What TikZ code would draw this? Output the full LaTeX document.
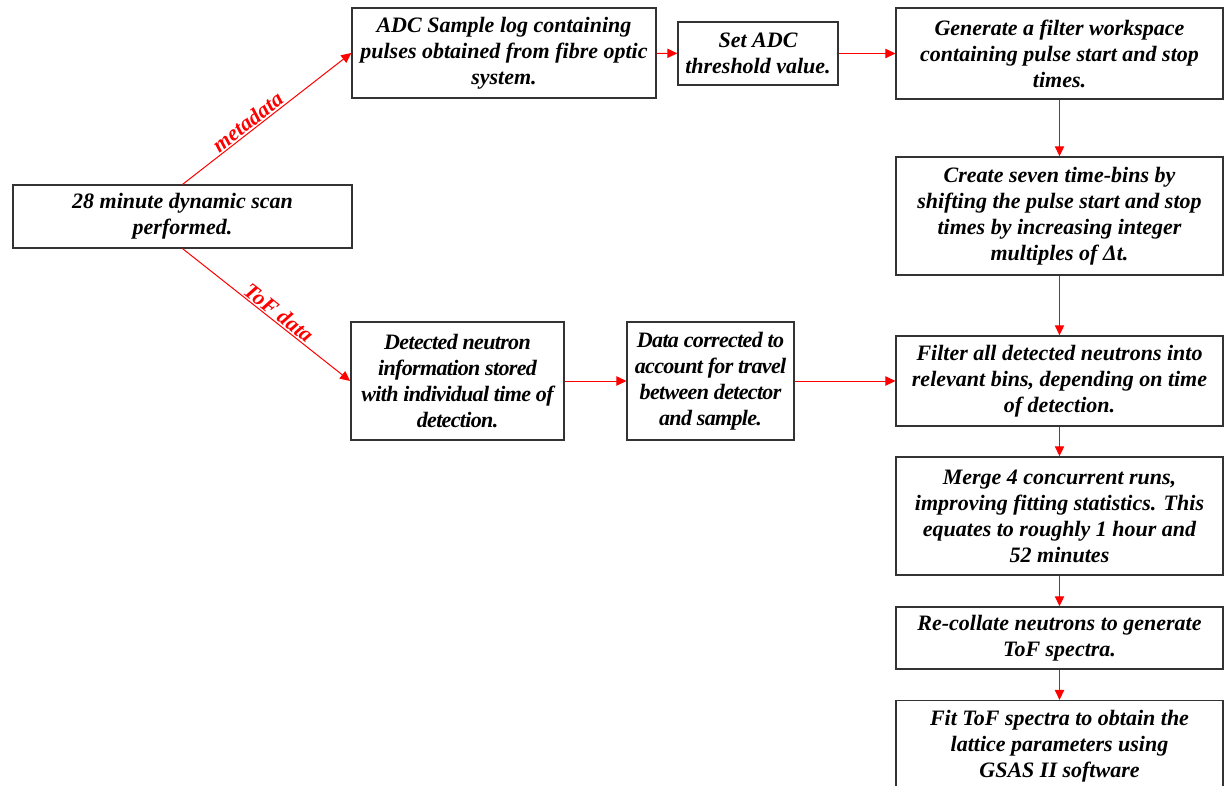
\documentclass[tikz,border=0pt]{standalone}
\usepackage{fontspec}
\setmainfont{Liberation Serif}
\usepackage{tikz}
\usetikzlibrary{arrows.meta}

\tikzset{
  stage/.style={draw=black!80,line width=1.1pt,fill=white,align=center,
    inner sep=2pt,font=\bfseries\itshape\fontsize{16.5}{19.5}\selectfont},
  tight/.style={font=\bfseries\itshape\fontsize{16.5}{19.5}\selectfont\addfontfeatures{LetterSpace=-3}},
  flow/.style={red,line width=0.75pt,-{Triangle[length=7.5pt,width=7pt]}},
  flowlabel/.style={red,sloped,above,inner sep=1pt,
    font=\bfseries\itshape\fontsize{16.5}{19.5}\selectfont}
}

\begin{document}
\begin{tikzpicture}[x=0.75pt,y=-0.75pt]
        \useasboundingbox (0,0) rectangle (1226,785);

        \node[stage,minimum width=254pt,minimum height=47pt] (scan) at (182.5,216.5) {28 minute dynamic scan\\performed.};
        \node[stage,minimum width=228pt,minimum height=67.5pt] (adc) at (504,53) {ADC Sample log containing\\pulses obtained from fibre optic\\system.};
        \node[stage,minimum width=120pt,minimum height=47pt] (thresh) at (758,53.5) {Set ADC\\threshold value.};
        \node[stage,minimum width=245pt,minimum height=68pt] (workspace) at (1059.5,53.5) {Generate a filter workspace\\containing pulse start and stop\\times.};
        \node[stage,minimum width=245pt,minimum height=88.5pt] (timebins) at (1059.5,216) {Create seven time-bins by\\shifting the pulse start and stop\\times by increasing integer\\multiples of Δt.};
        \node[stage,tight,minimum width=160pt,minimum height=88.5pt] (detected) at (457.5,381) {Detected neutron\\information stored\\with individual time of\\detection.};
        \node[stage,tight,minimum width=125pt,minimum height=88.5pt] (corrected) at (710.5,381) {Data corrected to\\account for travel\\between detector\\and sample.};
        \node[stage,minimum width=245pt,minimum height=67.5pt] (binning) at (1059.5,381) {Filter all detected neutrons into\\relevant bins, depending on time\\of detection.};
        \node[stage,minimum width=245pt,minimum height=88.5pt] (merge) at (1059.5,516) {Merge 4 concurrent runs,\\improving fitting statistics. This\\equates to roughly 1 hour and\\52 minutes};
        \node[stage,minimum width=245pt,minimum height=46.5pt] (recollate) at (1059.5,638) {Re-collate neutrons to generate\\ToF spectra.};
        \node[stage,minimum width=245pt,minimum height=68pt] (fit) at (1059.5,746) {Fit ToF spectra to obtain the\\lattice parameters using\\GSAS II software};

        \draw[flow] (scan.north) -- node[flowlabel,pos=0.42] {metadata} (adc.west);
        \draw[flow] (scan.south) -- node[flowlabel,pos=0.54] {ToF data} (detected.west);
        \draw[flow] (adc) -- (thresh);
        \draw[flow] (thresh) -- (workspace);
        \draw[flow] (workspace) -- (timebins);
        \draw[flow] (timebins) -- (binning);
        \draw[flow] (detected) -- (corrected);
        \draw[flow] (corrected) -- (binning);
        \draw[flow] (binning) -- (merge);
        \draw[flow] (merge) -- (recollate);
        \draw[flow] (recollate) -- (fit);
      \end{tikzpicture}
\end{document}
